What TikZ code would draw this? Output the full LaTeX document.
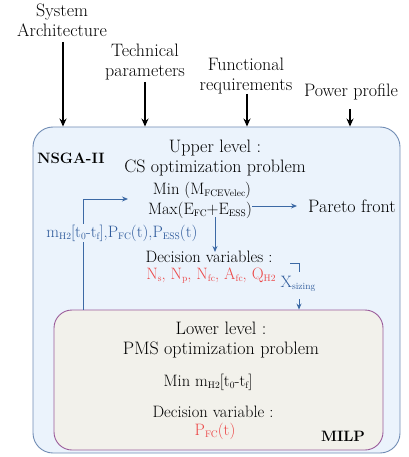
\documentclass[tikz,border=0pt]{standalone}
\usetikzlibrary{arrows.meta}
\definecolor{bluetext}{RGB}{46,90,155}
\definecolor{bluecol}{RGB}{60,105,165}
\definecolor{redtext}{RGB}{236,72,72}
\definecolor{outerfill}{RGB}{235,243,252}
\definecolor{outerdraw}{RGB}{112,140,180}
\definecolor{innerfill}{RGB}{242,241,235}
\definecolor{innerdraw}{RGB}{155,92,155}
\newcommand{\lsub}[1]{\raisebox{-0.3ex}{\fontsize{9.5}{10}\selectfont #1}}
\tikzset{
  big/.style={inner sep=0pt, align=center, font=\fontsize{18}{20}\selectfont},
  med/.style={inner sep=0pt, align=center, font=\fontsize{16.5}{19}\selectfont},
  boldlab/.style={inner sep=0pt, font=\fontsize{15}{18}\selectfont\bfseries},
  inarrow/.style={line width=1.4pt, -{Stealth[length=8pt,width=7pt]}},
  bluearrow/.style={draw=bluecol, line width=0.9pt, -{Stealth[length=6pt,width=5pt]}},
  bluestroke/.style={draw=bluecol, line width=0.9pt},
  outerbox/.style={draw=outerdraw, fill=outerfill, line width=0.9pt, rounded corners=20pt, minimum width=367pt, minimum height=326pt, inner sep=0pt},
  innerbox/.style={draw=innerdraw, fill=innerfill, line width=0.9pt, rounded corners=18pt, minimum width=329pt, minimum height=140pt, inner sep=0pt},
}
\begin{document}
\begin{tikzpicture}[x=1pt,y=-1pt]
\useasboundingbox (0,0) rectangle (408,457);
% boxes
\node[outerbox] (outer) at (216.5,290) {};
\node[innerbox] (inner) at (218.5,380) {};
% top inputs
\node[big] (sys) at (62,20) {System\\Architecture};
\node[big] (tech) at (145,62) {Technical\\parameters};
\node[big] (func) at (246,76) {Functional\\requirements};
\node[big] (power) at (351,92) {Power profile};
\coordinate (sysS) at (63,42);
\coordinate (techS) at (145,82);
\coordinate (funcS) at (247,94);
\coordinate (powS) at (350,109);
\draw[inarrow] (sysS) -- (sysS |- outer.north);
\draw[inarrow] (techS) -- (techS |- outer.north);
\draw[inarrow] (funcS) -- (funcS |- outer.north);
\draw[inarrow] (powS) -- (powS |- outer.north);
% upper level
\node[boldlab] (nsga) at (71,158) {NSGA-II};
\node[big] (upper) at (215,158) {Upper level :\\CS optimization problem};
\node[med] (minM) at (202,190) {Min (M\lsub{FCEVelec})};
\node[med] (maxE) at (200,210) {Max(E\lsub{FC}+E\lsub{ESS})};
\node[big] (pareto) at (352,206) {Pareto front};
% blue connectors
\coordinate (paretoOut) at (252,206);
\coordinate (paretoIn) at (297,206);
\draw[bluearrow] (paretoOut) -- (paretoIn);
\coordinate (downX) at (215,217);
\draw[bluearrow] (downX) -- (215,252);
\coordinate (loopTop) at (83,199);
\coordinate (loopEnd) at (128,199);
\draw[bluestroke] (loopTop |- inner.north) -- (loopTop);
\draw[bluearrow] (loopTop) -- (loopEnd);
\node[med, text=bluetext, fill=outerfill, inner sep=1pt] (feed) at (122,233) {m\lsub{H2}[t\lsub{0}-t\lsub{f}],P\lsub{FC}(t),P\lsub{ESS}(t)};
\node[med] (dec) at (209,257) {Decision variables :};
\node[med, text=redtext] (vars) at (211,276) {N\lsub{s}, N\lsub{p}, N\lsub{fc}, A\lsub{fc}, Q\lsub{H2}};
\node[med, text=bluetext] (xs) at (298,284) {X\lsub{sizing}};
\coordinate (bk1) at (290,263);
\coordinate (bk2) at (299,263);
\coordinate (bk3) at (299,272);
\coordinate (bk4) at (299,299);
\draw[bluestroke] (bk1) -- (bk2) -- (bk3);
\draw[bluearrow] (bk4) -- (bk4 |- inner.north);
% lower level
\node[big] (lower) at (221,340) {Lower level :\\PMS optimization problem};
\node[med] (minH) at (208,382) {Min m\lsub{H2}[t\lsub{0}-t\lsub{f}]};
\node[med] (dv) at (213,412) {Decision variable :};
\node[med, text=redtext] (pfc) at (215,431) {P\lsub{FC}(t)};
\node[boldlab] (milp) at (343,436) {MILP};
\end{tikzpicture}
\end{document}
